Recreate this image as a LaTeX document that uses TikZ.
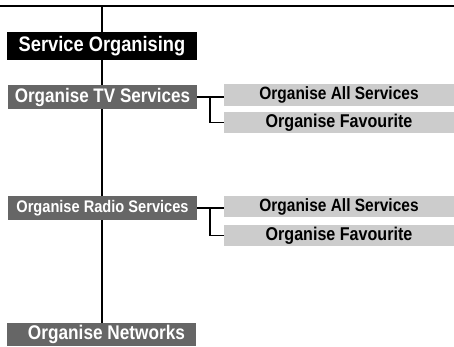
\documentclass[tikz,border=0pt]{standalone}
\usepackage{fontspec}
\setmainfont{Liberation Sans}[FakeStretch=0.87]
\definecolor{darkbox}{HTML}{666666}
\definecolor{lightbox}{HTML}{CCCCCC}
\begin{document}
\begin{tikzpicture}[x=1pt,y=-1pt,
  conn/.style={line width=1.3pt,black},
  box/.style={inner sep=0pt,outer sep=0pt,font=\bfseries,anchor=center},
  mainbox/.style={box,fill=black,text=white,minimum width=190pt,minimum height=28pt},
  catbox/.style={box,fill=darkbox,text=white,minimum width=189pt,minimum height=24pt},
  subbox/.style={box,fill=lightbox,text=black,minimum width=230pt,minimum height=21pt}]
\useasboundingbox (0,0) rectangle (454,346);
\node[mainbox] (so) at (102,46) {\fontsize{21}{24}\selectfont Service Organising};
\node[catbox] (tv) at (102.5,97) {\fontsize{19.6}{22}\selectfont Organise TV Services};
\node[subbox,minimum height=22pt] (tvall) at (339,95) {\fontsize{17.8}{20}\selectfont Organise All Services};
\node[subbox] (tvfav) at (339,122.5) {\fontsize{18.5}{20}\selectfont Organise Favourite};
\node[catbox] (radio) at (102.5,208) {\fontsize{16.8}{20}\selectfont Organise Radio Services};
\node[subbox] (rall) at (339,206.5) {\fontsize{17.8}{20}\selectfont Organise All Services};
\node[subbox] (rfav) at (339,235.5) {\fontsize{18.5}{20}\selectfont Organise Favourite};
\node[catbox,minimum width=189pt,minimum height=23pt] (net) at (101.5,334.5) {\hspace*{10pt}\fontsize{19.8}{22}\selectfont Organise Networks};
\coordinate (tl) at (0,6);
\coordinate (tr) at (454,6);
\coordinate (vt) at (102,6);
\coordinate (tvj) at (210,97);
\coordinate (rj) at (210,208);
\draw[conn] (tl) -- (tr);
\draw[conn] (vt) -- (so.north);
\draw[conn] (so.south) -- (so.south |- tv.north);
\draw[conn] (so.south |- tv.south) -- (so.south |- radio.north);
\draw[conn] (so.south |- radio.south) -- (so.south |- net.north);
\draw[conn] (tv.east) -- (tvall.west |- tv.east);
\draw[conn] (tvj) |- (tvfav.west);
\draw[conn] (radio.east) -- (rall.west |- radio.east);
\draw[conn] (rj) |- (rfav.west);
\end{tikzpicture}
\end{document}
